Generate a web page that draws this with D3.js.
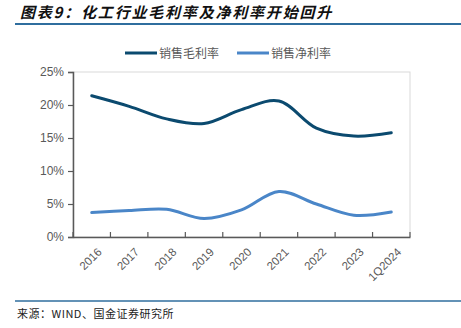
<!DOCTYPE html>
<html><head><meta charset="utf-8">
<script src="https://cdn.jsdelivr.net/npm/d3@7"></script>
<style>body{margin:0;background:#fff}</style>
</head><body>
<svg id="c" width="461" height="328"></svg>
<script>
const categories = ["2016","2017","2018","2019","2020","2021","2022","2023","1Q2024"];
const grossMargin = [21.4, 19.8, 17.9, 17.2, 19.3, 20.6, 16.5, 15.3, 15.8];
const netMargin = [3.7, 4.0, 4.2, 2.8, 4.1, 6.9, 5.0, 3.3, 3.8];
const yTicks = [0, 5, 10, 15, 20, 25];
const seriesNames = ["销售毛利率", "销售净利率"];
const colors = ["#0b4a6f", "#4a86c8"];

const svg = d3.select("#c");
const m = {l:73, r:410, t:72, b:237};

// title
svg.append("text").attr("x",20).attr("y",18)
  .attr("font-family","Noto Sans CJK SC").attr("font-size",15).attr("font-weight","bold")
  .attr("font-style","italic").attr("fill","#111").attr("letter-spacing",1.8)
  .text("图表9：化工行业毛利率及净利率开始回升");
svg.append("line").attr("x1",15).attr("x2",461).attr("y1",24).attr("y2",24)
  .attr("stroke","#2f6e9e").attr("stroke-width",2);

const x = d3.scaleBand().domain(categories).range([m.l, m.r]);
const y = d3.scaleLinear().domain([0,25]).range([m.b, m.t]);

// frame
svg.append("rect").attr("x",m.l).attr("y",m.t).attr("width",m.r-m.l).attr("height",m.b-m.t)
  .attr("fill","none").attr("stroke","#d9d9d9").attr("stroke-width",1);

const yAxis = svg.append("g").attr("transform",`translate(${m.l},0)`)
  .call(d3.axisLeft(y).tickValues(yTicks).tickSize(5).tickPadding(4).tickFormat(d=>d+"%"));
yAxis.select(".domain").attr("stroke","#595959").attr("stroke-width",1.5);
yAxis.selectAll(".tick line").attr("stroke","#595959").attr("stroke-width",1.2);
yAxis.selectAll("text").attr("fill","#595959").attr("font-size",12)
  .attr("font-family","Liberation Sans, Arial, sans-serif");

const xAxis = svg.append("g").attr("transform",`translate(0,${m.b})`)
  .call(d3.axisBottom(x).tickSize(0).tickFormat(""));
xAxis.select(".domain").attr("stroke","#595959").attr("stroke-width",1.5);
// boundary ticks
const bounds = categories.map(c=>x(c)).concat([m.r]);
svg.append("g").selectAll("line").data(bounds).join("line")
  .attr("x1",d=>d).attr("x2",d=>d).attr("y1",m.b).attr("y2",m.b-5)
  .attr("stroke","#595959").attr("stroke-width",1.2);
svg.append("g").selectAll("text").data(categories).join("text")
  .attr("transform",d=>`translate(${x(d)+x.bandwidth()/2+5},${m.b+10}) rotate(-45)`)
  .attr("text-anchor","end").attr("dy","0.7em")
  .attr("fill","#595959").attr("font-size",11.5)
  .attr("font-family","Liberation Sans, Arial, sans-serif").text(d=>d);

const line = d3.line().x((d,i)=>x(categories[i])+x.bandwidth()/2).y(d=>y(d))
  .curve(d3.curveCatmullRom.alpha(0.5));
[grossMargin, netMargin].forEach((s,i)=>{
  svg.append("path").attr("d",line(s)).attr("fill","none")
    .attr("stroke",colors[i]).attr("stroke-width",3).attr("stroke-linecap","round");
});

// legend
const lg = [{x:125, name:seriesNames[0], c:colors[0]},{x:237, name:seriesNames[1], c:colors[1]}];
lg.forEach(d=>{
  svg.append("line").attr("x1",d.x).attr("x2",d.x+32).attr("y1",53).attr("y2",53)
    .attr("stroke",d.c).attr("stroke-width",3);
  svg.append("text").attr("x",d.x+34).attr("y",57.5).attr("fill","#595959")
    .attr("font-size",12).attr("font-family","Noto Sans CJK SC").text(d.name);
});

// footer
svg.append("line").attr("x1",15).attr("x2",461).attr("y1",301).attr("y2",301)
  .attr("stroke","#2f6e9e").attr("stroke-width",1.5);
svg.append("text").attr("x",17).attr("y",318).attr("fill","#222")
  .attr("font-size",11).attr("font-family","Noto Sans CJK SC").attr("letter-spacing",0.5)
  .text("来源：WIND、国金证券研究所");
</script>
</body></html>
